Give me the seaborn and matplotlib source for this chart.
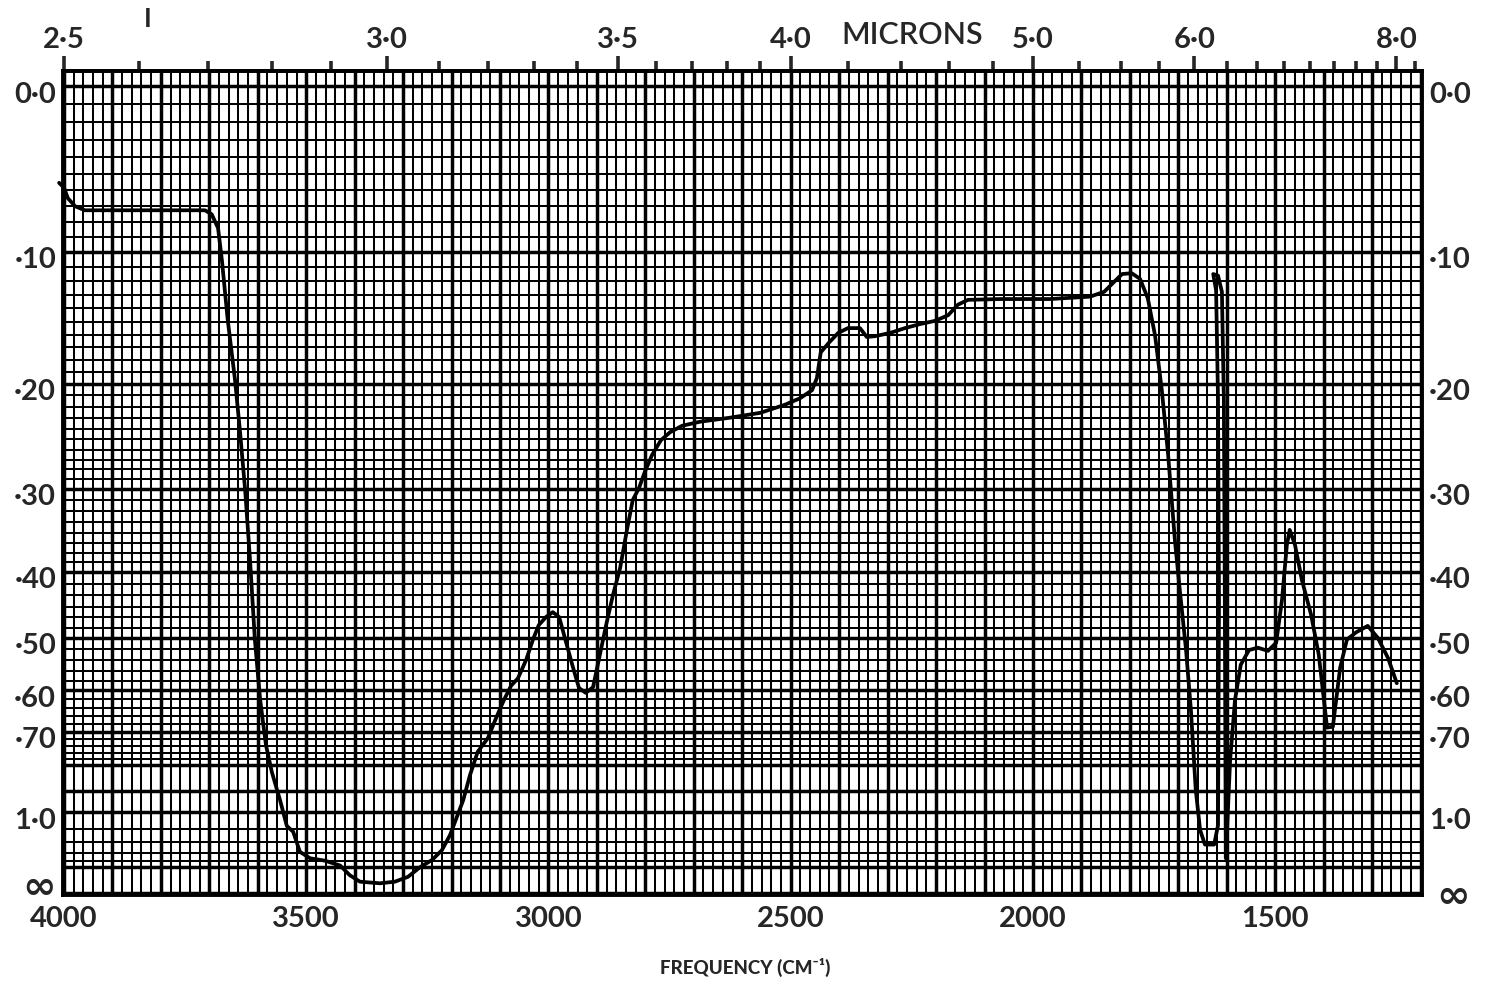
import numpy as np
import matplotlib
matplotlib.use("Agg")
import matplotlib.pyplot as plt
import matplotlib.transforms as mtransforms
from matplotlib.ticker import FixedLocator, FuncFormatter
import pandas as pd
import seaborn as sns

# Infrared spectrum: wavenumber (cm-1) and percent transmittance
wavenumber = [4010, 4000, 3992, 3977, 3957, 3843, 3709, 3695, 3682, 3674, 3662,
              3647, 3637, 3626, 3616, 3606, 3595, 3583, 3571, 3554, 3540,
              3527, 3513, 3492, 3461, 3430, 3410, 3389, 3348, 3317, 3290,
              3265, 3240, 3220, 3203, 3191, 3176, 3162, 3146, 3125, 3108,
              3092, 3077, 3063, 3046, 3032, 3020, 3005, 2991, 2978, 2966,
              2951, 2937, 2923, 2908, 2896, 2881, 2867, 2852, 2838, 2826,
              2813, 2801, 2786, 2768, 2749, 2724, 2687, 2625, 2563, 2512,
              2481, 2456, 2446, 2438, 2421, 2402, 2382, 2357, 2343, 2326,
              2295, 2264, 2233, 2202, 2175, 2155, 2134, 2068, 1965, 1882,
              1853, 1833, 1816, 1796, 1779, 1763, 1748, 1734, 1721, 1707,
              1697, 1684, 1674, 1664, 1655, 1645, 1626, 1618, 1616, 1618,
              1622, 1628, 1618, 1610, 1606, 1604, 1602, 1593, 1583, 1571,
              1554, 1536, 1515, 1498, 1486, 1476, 1470, 1459, 1445, 1426,
              1410, 1393, 1381, 1366, 1352, 1333, 1309, 1288, 1267, 1249]
transmittance = [88.0, 87.4, 86.1, 85.1, 84.6, 84.6, 84.6, 84.1, 82.4, 78.4, 71.0,
                 63.6, 57.4, 49.9, 41.3, 31.4, 23.9, 18.3, 15.0, 11.5, 8.3,
                 7.6, 5.1, 4.3, 4.0, 3.4, 2.2, 1.4, 1.2, 1.4, 2.0,
                 3.2, 4.1, 5.3, 7.2, 9.1, 11.5, 14.6, 17.5, 19.2, 21.7,
                 23.9, 25.7, 26.6, 28.9, 31.4, 33.2, 34.2, 34.8, 34.2, 31.6,
                 28.3, 25.4, 24.8, 25.5, 28.9, 33.2, 36.9, 40.3, 45.0, 48.7,
                 50.2, 52.2, 54.3, 56.1, 57.1, 57.9, 58.4, 58.9, 59.5, 60.5,
                 61.3, 62.3, 63.8, 67.0, 68.2, 69.4, 70.0, 70.0, 68.9, 69.0,
                 69.4, 70.0, 70.5, 70.9, 71.6, 72.9, 73.5, 73.6, 73.6, 73.9,
                 74.5, 75.7, 76.7, 76.8, 76.1, 73.7, 69.1, 62.3, 54.3, 43.7,
                 37.6, 30.1, 22.7, 12.8, 7.8, 6.0, 6.0, 8.4, 36.3, 61.1,
                 74.7, 76.7, 76.5, 74.5, 61.1, 36.3, 4.3, 16.5, 23.9, 28.3,
                 30.1, 30.4, 30.0, 31.0, 36.3, 43.1, 45.0, 43.1, 38.8, 34.5,
                 29.5, 20.5, 20.6, 27.9, 31.4, 32.3, 33.1, 31.6, 29.1, 26.0]

# Bottom frequency scale
freq_ticks = [4000, 3500, 3000, 2500, 2000, 1500]
# Top wavelength scale
micron_ticks = [2.5, 3.0, 3.5, 4.0, 5.0, 6.0, 8.0]
micron_labels = ["2\u00b75", "3\u00b70", "3\u00b75", "4\u00b70", "5\u00b70", "6\u00b70", "8\u00b70"]
# Optical density scale on both sides
od_ticks = [0.0, 0.1, 0.2, 0.3, 0.4, 0.5, 0.6, 0.7, 1.0]
od_labels = ["0\u00b70", "\u00b710", "\u00b720", "\u00b730", "\u00b740",
             "\u00b750", "\u00b760", "\u00b770", "1\u00b70"]

sns.set_theme(style="white")
plt.rcParams["font.family"] = ["Lato", "DejaVu Sans"]

W, H = 1489, 981
fig = plt.figure(figsize=(W / 100, H / 100), dpi=100)
fig.patch.set_facecolor("white")
L, R, T, B = 63, 1422, 71, 895
ax = fig.add_axes([L / W, 1 - B / H, (R - L) / W, (B - T) / H])
ax.set_facecolor("white")

df = pd.DataFrame({"nu": wavenumber, "T": np.array(transmittance) / 100.0})
sns.lineplot(data=df, x="nu", y="T", sort=False, estimator=None, color="black",
             linewidth=2.7, ax=ax, zorder=5, clip_on=False)
ax.set_xlim(4002, 1197)
ax.set_ylim(-0.0025, 1.0186)
ax.set_xlabel("")
ax.set_ylabel("")

# Chart-paper grid: heavy every 100 cm-1, light every 20 cm-1
ax.xaxis.set_major_locator(FixedLocator(np.arange(4000, 1150, -100)))
ax.xaxis.set_minor_locator(FixedLocator(np.arange(4000, 1150, -20)))
ax.xaxis.set_major_formatter(FuncFormatter(
    lambda v, p: f"{int(round(v))}" if int(round(v)) in freq_ticks else ""))

# Horizontal rulings at absorbance steps (linear in transmittance)
major_A = [0.0, 0.1, 0.2, 0.3, 0.4, 0.5, 0.6, 0.7, 0.8, 0.9, 1.0, 1.5]
steps = [(0.0, 0.1, 10), (0.1, 0.2, 10), (0.2, 0.3, 10), (0.3, 0.4, 8),
         (0.4, 0.5, 6), (0.5, 0.6, 5), (0.6, 0.7, 5), (0.7, 0.8, 5), (1.0, 1.5, 5)]
minor_A = np.concatenate([np.linspace(a, b, n + 1)[1:-1] for a, b, n in steps])
major_T = [10 ** (-a) for a in major_A] + [0.0]
ax.yaxis.set_major_locator(FixedLocator(major_T))
ax.yaxis.set_minor_locator(FixedLocator(10 ** (-minor_A)))

label_map = {round(10 ** (-a), 6): s for a, s in zip(od_ticks, od_labels)}
ax.yaxis.set_major_formatter(FuncFormatter(lambda v, p: label_map.get(round(v, 6), "")))

ax.grid(True, which="major", color="black", linewidth=2.5)
ax.grid(True, which="minor", color="black", linewidth=1.45)
ax.set_axisbelow(True)
ax.tick_params(which="both", length=0)
ax.tick_params(axis="x", which="major", pad=8, labelsize=21)
ax.tick_params(axis="y", which="major", pad=5, labelsize=21, labelleft=True, labelright=True)
for s in ax.spines.values():
    s.set_visible(True)
    s.set_color("black")
    s.set_linewidth(2.8)

# Wavelength scale along the top
def to_micron(x):
    x = np.asarray(x, dtype=float)
    return 1e4 / np.where(np.abs(x) < 1e-9, 1e-9, x)

sec = ax.secondary_xaxis("top", functions=(to_micron, to_micron))
sec.set_xticks(micron_ticks, labels=micron_labels)
minor_microns = (list(np.round(np.arange(2.6, 4.0, 0.1), 2)) + [4.2, 4.4, 4.6, 4.8]
                 + [5.25, 5.5, 5.75, 6.25, 6.5, 6.75, 7.0, 7.25, 7.5, 7.75, 8.25])
minor_microns = [m for m in minor_microns if m not in micron_ticks]
sec.xaxis.set_minor_locator(FixedLocator(minor_microns))
sec.tick_params(which="major", length=11, width=2.6, direction="out", pad=2, labelsize=21)
sec.tick_params(which="minor", length=7, width=2.6, direction="out")
sec.spines["top"].set_linewidth(2.8)

fig.canvas.draw()
for lab in ax.get_xticklabels() + sec.get_xticklabels():
    lab.set_fontweight("bold")
shift = mtransforms.ScaledTranslation(0, -6 / 100, fig.dpi_scale_trans)
for tick in ax.yaxis.get_major_ticks():
    for lab in (tick.label1, tick.label2):
        lab.set_fontweight("bold")
        lab.set_transform(lab.get_transform() + shift)

# Infinite optical density at zero transmission, on both sides
fig.text(39 / W, 1 - 888 / H, "\u221e", fontsize=29, fontweight="bold",
         family="DejaVu Sans", ha="center", va="center")
fig.text(1453 / W, 1 - 897 / H, "\u221e", fontsize=29, fontweight="bold",
         family="DejaVu Sans", ha="center", va="center")

fig.text(912 / W, 1 - 35 / H, "MICRONS", fontsize=22, fontweight="semibold",
         ha="center", va="center")
fig.text(148 / W, 1 - 19 / H, "I", fontsize=19, fontweight="bold",
         ha="center", va="center")
fig.text(745 / W, 1 - 967 / H, "FREQUENCY (CM\u207b\u00b9)", fontsize=13.5,
         fontweight="black", ha="center", va="center")

fig.savefig("out.png", dpi=100, facecolor="white")
